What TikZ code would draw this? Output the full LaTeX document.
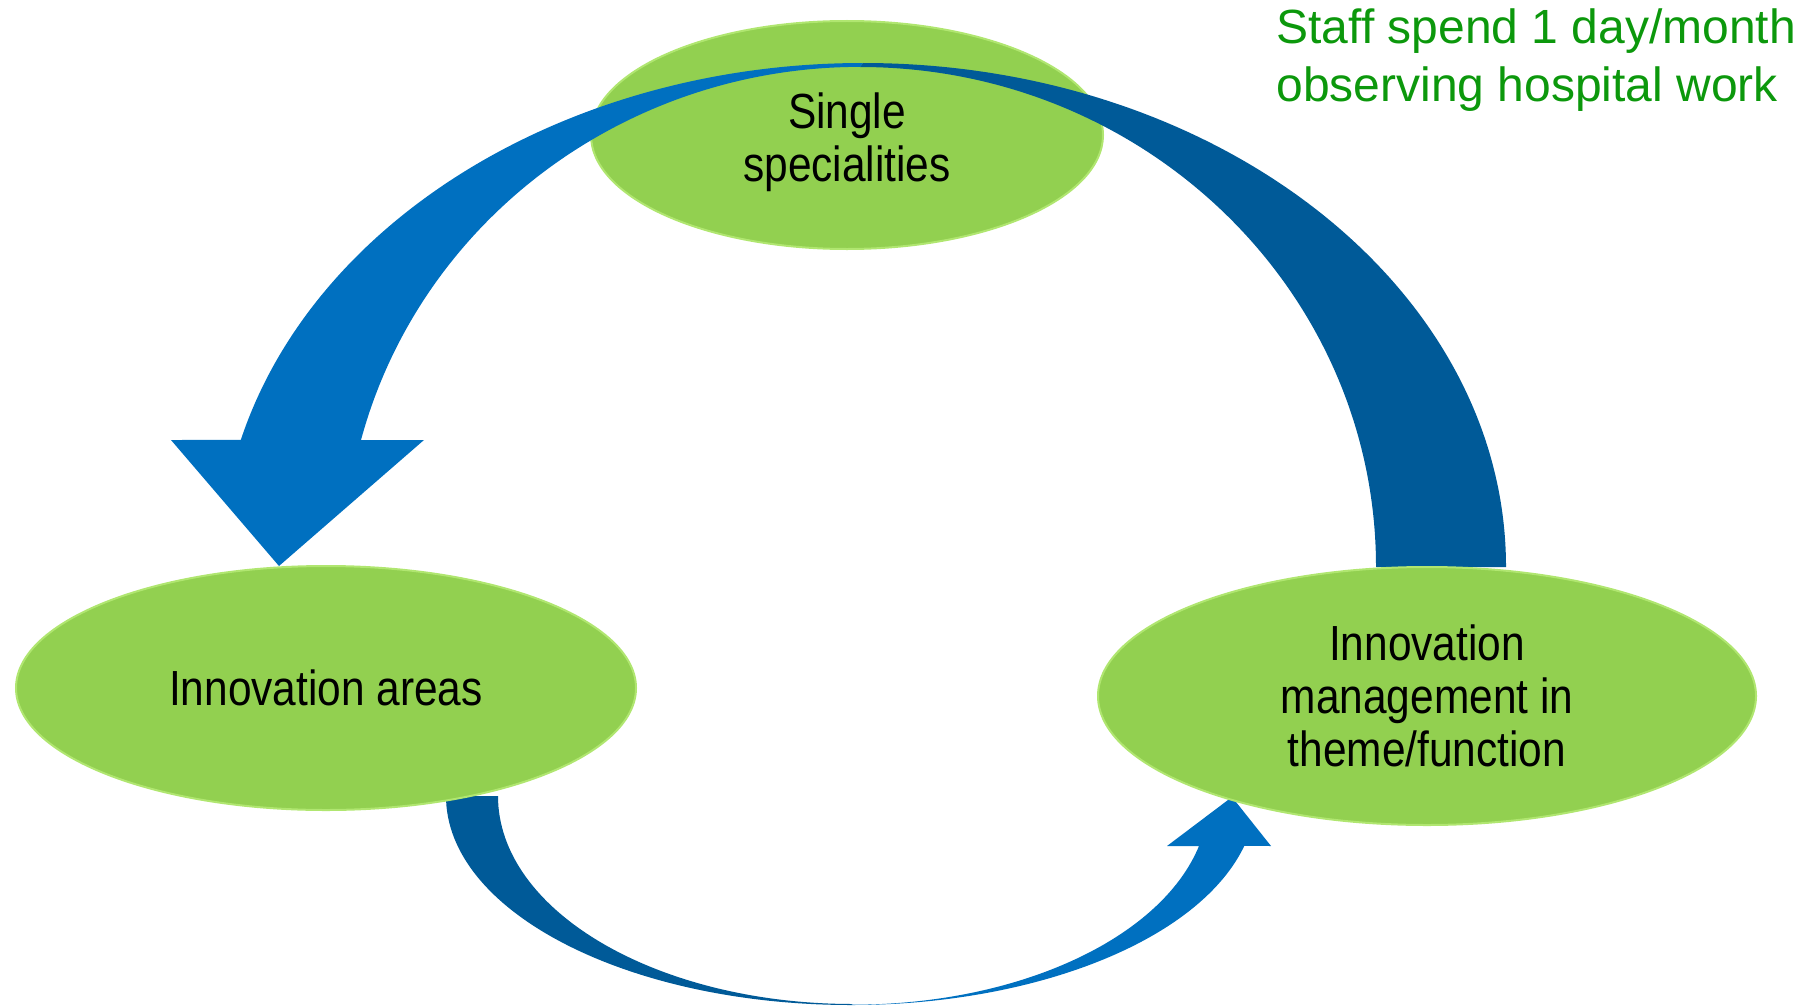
\documentclass[tikz,border=0pt]{standalone}
\usepackage{fontspec}
\setmainfont{Liberation Sans}
\newfontfamily\ellfont{Liberation Sans}[FakeStretch=0.86]
\usetikzlibrary{shapes.geometric}
\definecolor{leafgreen}{RGB}{146,208,80}
\definecolor{rimgreen}{RGB}{176,230,112}
\definecolor{arrowblue}{RGB}{0,112,192}
\definecolor{arrowdark}{RGB}{0,90,152}
\definecolor{notegreen}{RGB}{12,152,12}
\tikzset{
	bubble/.style={ellipse, fill=leafgreen, draw=rimgreen, line width=1.5pt, inner sep=0pt, align=center, font=\ellfont\fontsize{37}{39.5}\selectfont}}
\tikzset{every picture/.style={line width=0.75pt}}

\begin{document}
\begin{tikzpicture}[x=0.75pt,y=0.75pt,yscale=-1,xscale=1]
	\useasboundingbox (0,0) rectangle (1816,1006);

	%Shape: Ellipse [id:single]
	\node[bubble, minimum width=384pt, minimum height=171pt] (single) at (847,135) {\rule{0pt}{38pt}Single\\specialities};

	%Shape: Curved Arrow, back half
	\fill[arrowdark] (863,63) arc[start angle=270, end angle=360, x radius=643, y radius=504] -- (1376,567) arc[start angle=360, end angle=270, x radius=516, y radius=500] -- cycle;
	%Shape: Curved Arrow, front half with head
	\fill[arrowblue] (863,63) arc[start angle=270, end angle=194.6, x radius=643, y radius=504] -- (171,440) -- (279,566) -- (424,440) -- (361,440) arc[start angle=194.7, end angle=270, x radius=516, y radius=500] -- cycle;

	%Shape: Curved Arrow, lower back half
	\fill[arrowdark] (446,796) arc[start angle=180, end angle=90, x radius=405, y radius=209] -- (853,1004) arc[start angle=90, end angle=180, x radius=355, y radius=208] -- cycle;
	%Shape: Curved Arrow, lower front half with head
	\fill[arrowblue] (851,1005) arc[start angle=90, end angle=13.8, x radius=405, y radius=209] -- (1271,846) -- (1232,797) -- (1167,846) -- (1199,846) arc[start angle=13.5, end angle=90, x radius=356, y radius=207] -- cycle;

	%Shape: Ellipse [id:areas]
	\node[bubble, minimum width=465pt, minimum height=183pt] (areas) at (326,688) {Innovation areas};
	%Shape: Ellipse [id:management]
	\node[bubble, minimum width=493.5pt, minimum height=193.5pt] (management) at (1427,696) {Innovation\\management in\\theme/function};

	% Text Node
	\node[anchor=west, align=left, inner sep=0pt, text=notegreen, font=\fontsize{36}{43.5}\selectfont] (note) at (1276,60) {Staff spend 1 day/month\\observing hospital work};

\end{tikzpicture}
\end{document}
